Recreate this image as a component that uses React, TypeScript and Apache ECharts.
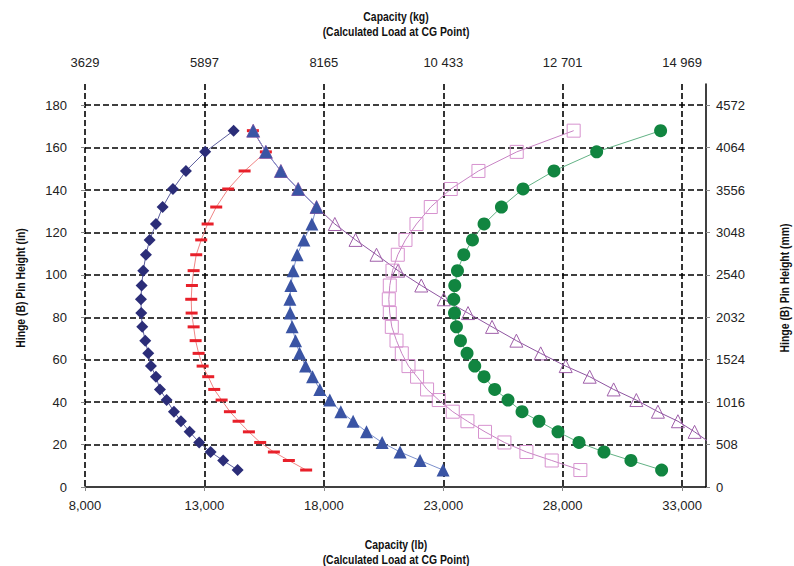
import React, { useEffect, useRef } from "react";
import * as echarts from "echarts";

// Hinge (B) pin height of each plotted point (in)
const heightsIn = [168, 158, 149, 140.5, 132, 124, 116.5, 109.5, 102, 95, 88.5, 82, 75.5, 69, 63, 57, 52, 46, 41, 35.5, 31, 26, 21, 16.5, 12.5, 8];

// Capacity (lb) of each series at those heights
const navyLb = [14222, 13033, 12226, 11682, 11251, 10971, 10707, 10552, 10439, 10372, 10343, 10356, 10397, 10523, 10648, 10761, 10971, 11138, 11418, 11724, 12017, 12381, 12782, 13259, 13786, 14389];
const redLb = [15029, 15573, 14682, 13996, 13494, 13134, 12866, 12657, 12548, 12477, 12448, 12464, 12548, 12632, 12757, 12925, 13159, 13410, 13720, 14067, 14431, 14862, 15335, 15908, 16535, 17259];
const blueLb = [15042, 15573, 16201, 16925, 17694, 17498, 17163, 16883, 16715, 16619, 16577, 16590, 16673, 16816, 16983, 17234, 17527, 17832, 18251, 18711, 19226, 19786, 20439, 21192, 22029, 22991];
const purpleLb = [15042, 15573, 16201, 16925, 17694, 18460, 19326, 20205, 21109, 22079, 23021, 24037, 25042, 26062, 27079, 28125, 29130, 30133, 31083, 31987, 32824, 33522, 34150];
const pinkLb = [28460, 26076, 24473, 23313, 22477, 21878, 21418, 21096, 20874, 20761, 20719, 20761, 20845, 21042, 21263, 21544, 21903, 22322, 22811, 23397, 24012, 24748, 25560, 26481, 27540, 28740];
const greenLb = [32100, 29422, 27636, 26339, 25435, 24707, 24222, 23858, 23594, 23481, 23439, 23469, 23552, 23720, 23996, 24318, 24707, 25154, 25711, 26297, 27008, 27803, 28682, 29728, 30857, 32142];

// Axis scales
const lbMin = 8000;
const lbMax = 34000;
const lbStep = 5000;
const inMax = 190;
const inStep = 20;
const mmPerIn = 25.4;
const kgPerLb = 0.45359237;

// Titles
const topTitle = ["Capacity (kg)", "(Calculated Load at CG Point)"];
const bottomTitle = ["Capacity (lb)", "(Calculated Load at CG Point)"];
const leftTitle = "Hinge (B) Pin Height (in)";
const rightTitle = "Hinge (B) Pin Height (mm)";

const FONT = "'Liberation Sans', Arial, sans-serif";

const pair = (xs: number[]) => xs.map((x, i) => [x, heightsIn[i]]);

const fmtComma = (v: number) => Math.round(v).toString().replace(/\B(?=(\d{3})+(?!\d))/g, ",");
const fmtSpace = (v: number) => {
  const s = Math.round(v).toString();
  return s.length > 4 ? s.replace(/\B(?=(\d{3})+(?!\d))/g, " ") : s;
};

export default function App() {
  const ref = useRef<HTMLDivElement>(null);
  useEffect(() => {
    if (!ref.current) return;
    const chart = echarts.init(ref.current, null, { renderer: "svg" });
    const dash = { type: [6, 3] as any, color: "#000", width: 1.6 };
    const labelStyle = { fontFamily: FONT, fontSize: 13, color: "#222" };
    const titleText = (text: string, x: number, y: number, rotation = 0) => ({
      type: "text",
      x,
      y,
      rotation,
      scaleX: 0.8,
      style: { text, font: `bold 13px ${FONT}`, fill: "#111", textAlign: "center", textVerticalAlign: "middle" },
    });
    const lineSeries = (name: string, data: number[], symbol: string, size: any, fill: string, border: string, lineColor: string, borderWidth = 0) => ({
      name,
      type: "line",
      data: pair(data),
      symbol,
      symbolSize: size,
      showSymbol: true,
      clip: true,
      itemStyle: { color: fill, borderColor: border, borderWidth },
      lineStyle: { color: lineColor, width: 1 },
      emphasis: { disabled: true },
    });
    chart.setOption({
      animation: false,
      backgroundColor: "#fff",
      grid: { left: 85, right: 88, top: 84, bottom: 79, containLabel: false },
      xAxis: [
        {
          type: "value",
          position: "bottom",
          min: lbMin,
          max: lbMax,
          interval: lbStep,
          axisLine: { show: true, lineStyle: { color: "#000", width: 1.5 } },
          axisTick: { show: true, length: 4, lineStyle: { color: "#888" } },
          axisLabel: { ...labelStyle, margin: 12, showMaxLabel: false, formatter: (v: number) => fmtComma(v) },
          splitLine: { show: true, showMinLine: true, showMaxLine: false, lineStyle: dash },
        },
        {
          type: "value",
          position: "top",
          min: lbMin,
          max: lbMax,
          interval: lbStep,
          axisLine: { show: false },
          axisTick: { show: false },
          axisLabel: { ...labelStyle, margin: 15, showMaxLabel: false, formatter: (v: number) => fmtSpace(v * kgPerLb) },
          splitLine: { show: false },
        },
      ],
      yAxis: [
        {
          type: "value",
          position: "left",
          min: 0,
          max: inMax,
          interval: inStep,
          axisLine: { show: false },
          axisTick: { show: true, length: 4, lineStyle: { color: "#888" } },
          axisLabel: { ...labelStyle, margin: 18, showMaxLabel: false },
          splitLine: { show: true, showMinLine: false, showMaxLine: false, lineStyle: dash },
        },
        {
          type: "value",
          position: "right",
          min: 0,
          max: inMax * mmPerIn,
          interval: inStep * mmPerIn,
          axisLine: { show: true, lineStyle: { color: "#000", width: 1.5 } },
          axisTick: { show: true, length: 4, lineStyle: { color: "#888" } },
          axisLabel: { ...labelStyle, margin: 10, showMaxLabel: false, formatter: (v: number) => String(Math.round(v)) },
          splitLine: { show: false },
        },
      ],
      graphic: [
        titleText(topTitle[0], 396, 16),
        titleText(topTitle[1], 396, 31),
        titleText(bottomTitle[0], 396, 544),
        titleText(bottomTitle[1], 396, 559),
        titleText(leftTitle, 20, 288, Math.PI / 2),
        titleText(rightTitle, 784, 288, Math.PI / 2),
      ],
      series: [
        lineSeries("navy", navyLb, "diamond", 12, "#2b2d78", "#2b2d78", "#5b5d9c"),
        lineSeries("red", redLb, "rect", [12, 3], "#e8202a", "#e8202a", "#f08585"),
        lineSeries("purple", purpleLb, "triangle", 13, "rgba(255,255,255,0)", "#a060aa", "#8e55a0", 1),
        lineSeries("blue", blueLb, "triangle", 13, "#3a54a4", "#3a54a4", "#7c90cc"),
        lineSeries("pink", pinkLb, "rect", 13, "rgba(255,255,255,0)", "#d792cf", "#c884c4", 1),
        lineSeries("green", greenLb, "circle", 13, "#118540", "#118540", "#63b285"),
      ],
    });
    return () => chart.dispose();
  }, []);
  return <div ref={ref} style={{ position: "fixed", left: 0, top: 0, width: 794, height: 566 }} />;
}
